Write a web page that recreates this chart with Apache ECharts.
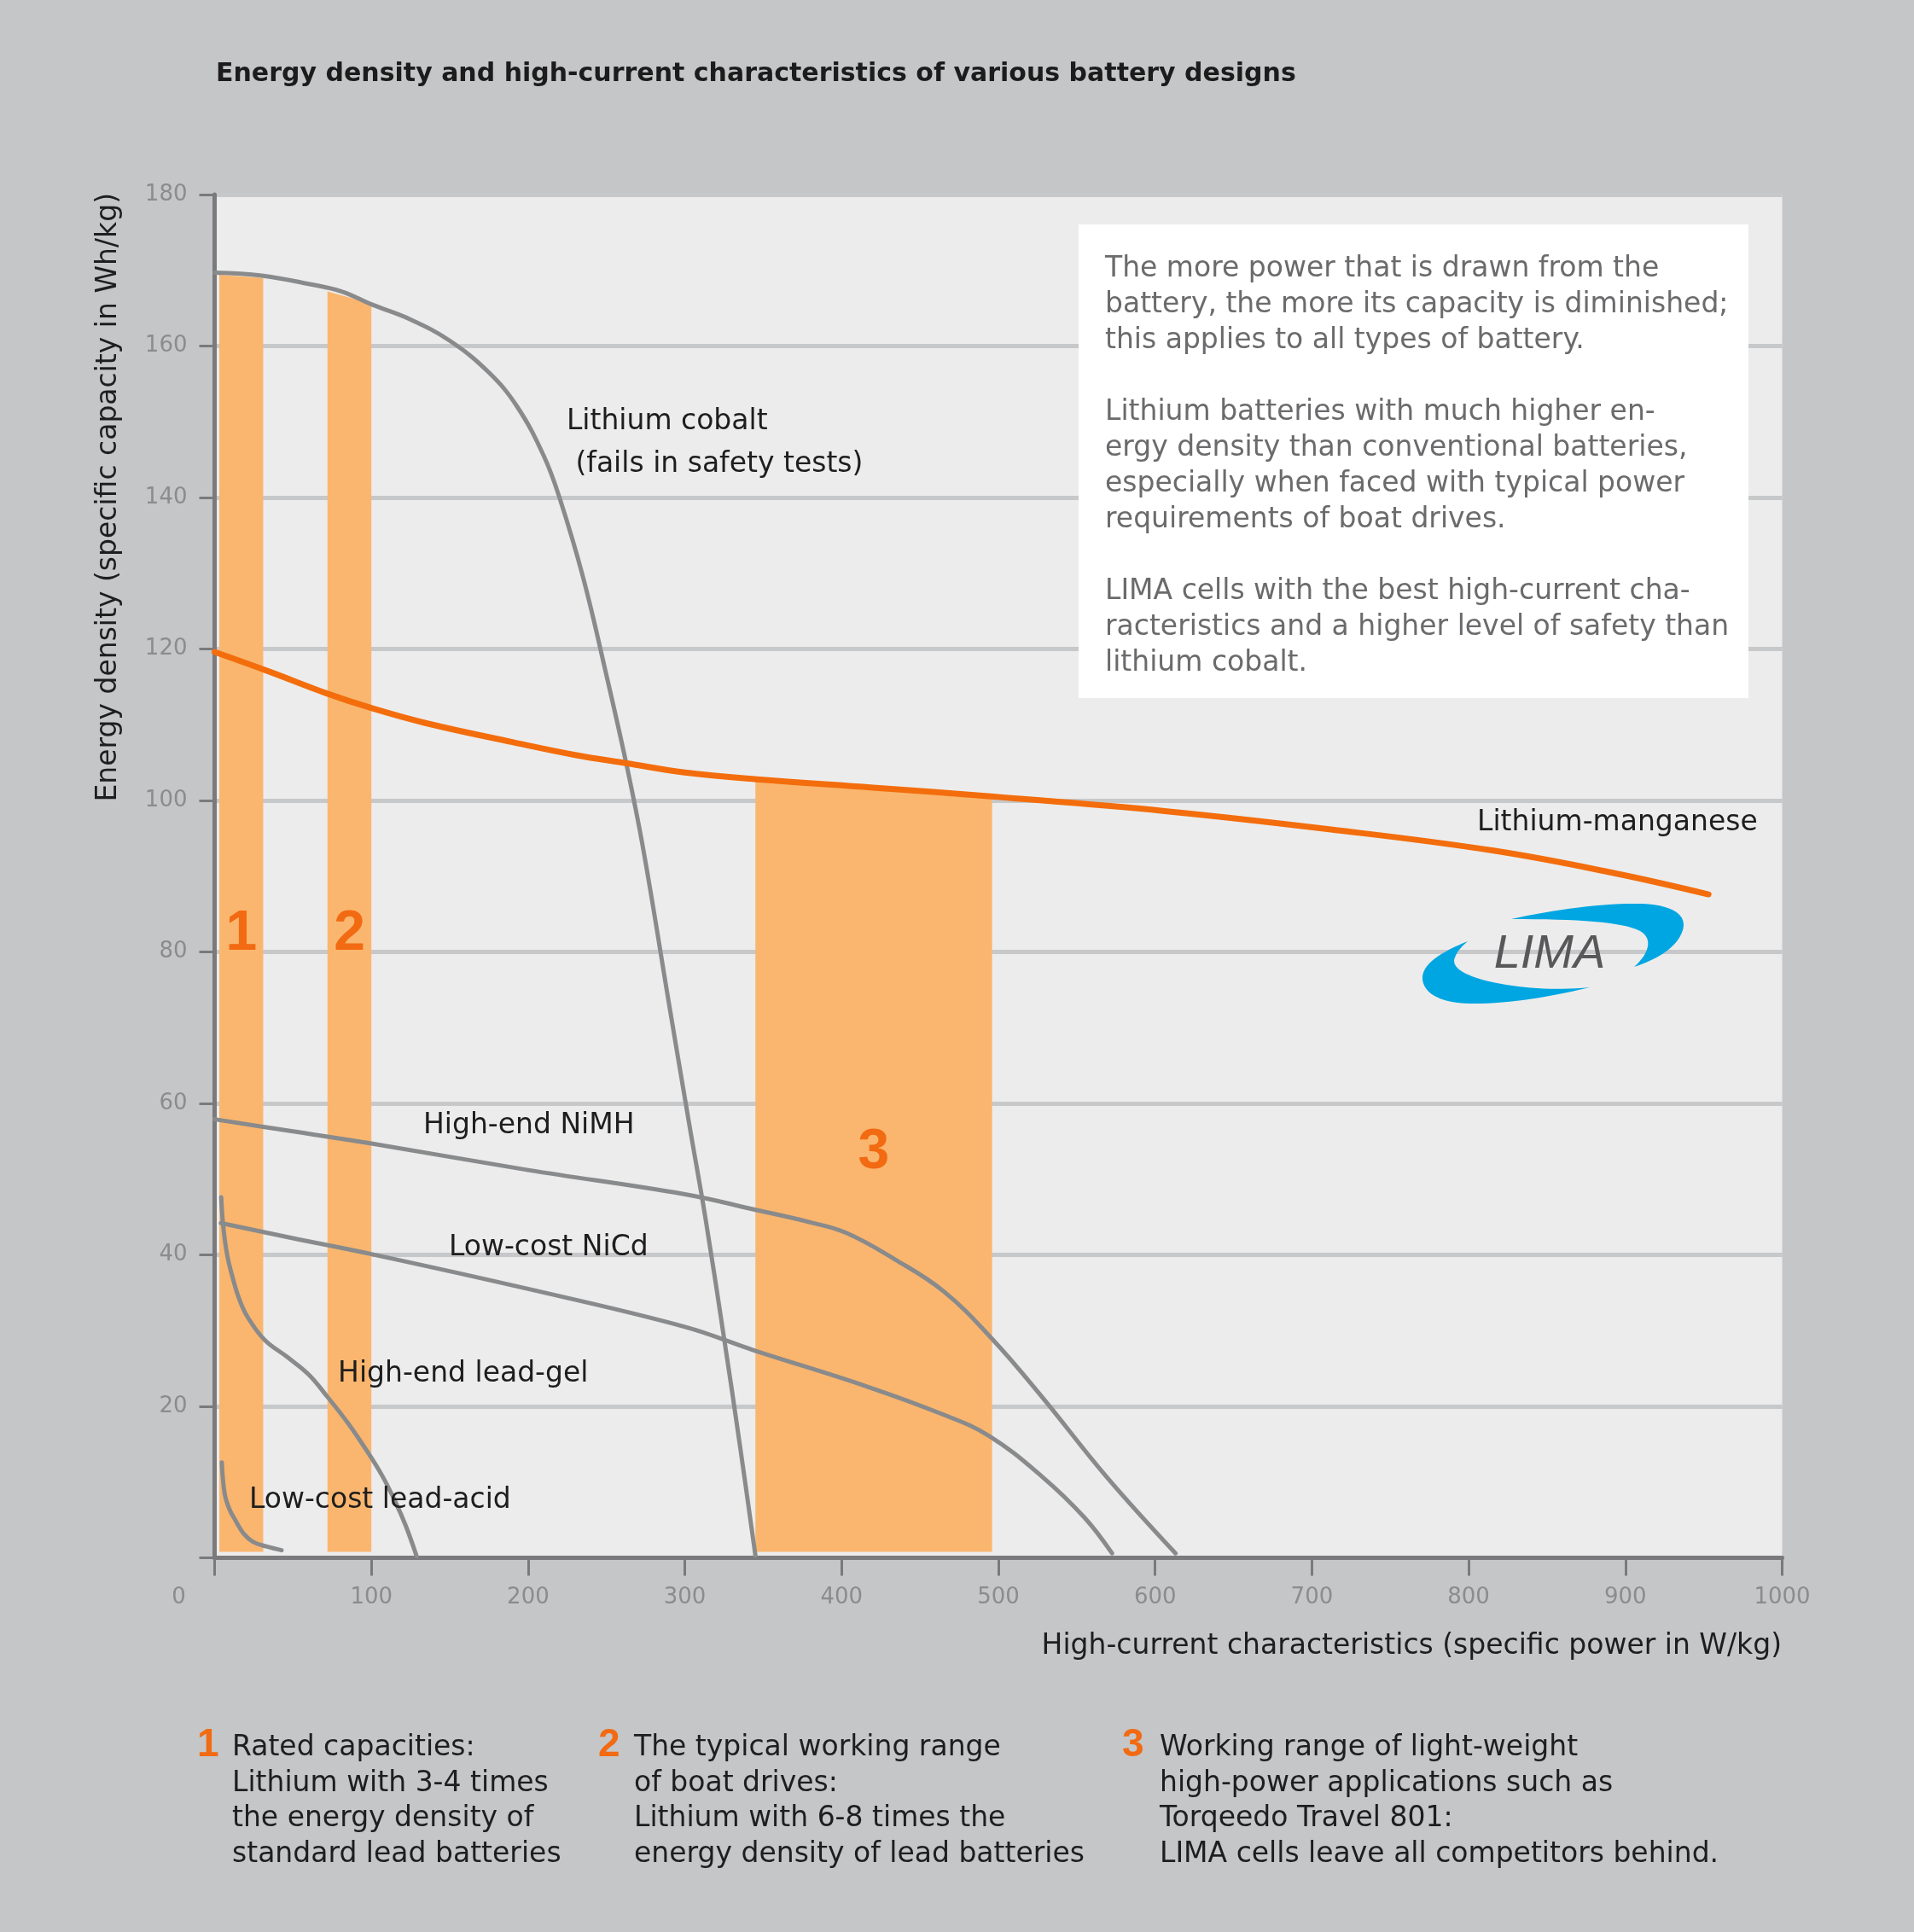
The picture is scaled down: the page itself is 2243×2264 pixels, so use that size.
<!DOCTYPE html>
<html>
<head>
<meta charset="utf-8">
<script src="https://cdn.jsdelivr.net/npm/echarts@6/dist/echarts.min.js"></script>
<style>
html,body{margin:0;padding:0;background:#c5c6c8;}
#chart{width:2243px;height:2264px;}
</style>
</head>
<body>
<div id="chart"></div>
<script>
// ---------- data ----------
const titleText = 'Energy density and high-current characteristics of various battery designs';
const xAxisName = 'High-current characteristics (specific power in W/kg)';
const yAxisName = 'Energy density (specific capacity in Wh/kg)';
const xMin = 0, xMax = 1000, xStep = 100;
const yMin = 0, yMax = 180, yStep = 20;

const lithiumCobalt = [[0,169.7],[30,169.3],[60,168.2],[81,167.2],[100,165.5],[125,163.5],[150,160.7],[175,156.5],[193,152],[210,145.5],[220,140],[235,129.5],[250,116.5],[263,104.5],[273.5,93.5],[290,73],[303,57],[313,45],[325,29],[335,15],[345,0.3]];
const lithiumManganese = [[0,119.6],[35,117],[72,114.1],[100,112.2],[135,110.2],[190,107.7],[230,106],[263,104.9],[300,103.7],[346,102.8],[420,101.7],[497,100.5],[606,98.6],[711,96.2],[815,93.4],[893,90.4],[953,87.6]];
const highEndNiMH = [[0,57.9],[50,56.3],[100,54.7],[200,51.2],[300,48],[344,46],[380,44.3],[403,42.9],[434,39.4],[465,35.2],[496,28.9],[528,21.2],[569,10.7],[613,0.6]];
const lowCostNiCd = [[4,44.2],[50,42.2],[100,40.1],[200,35.5],[300,30.5],[344,27.4],[415,22.7],[465,18.9],[494,16.1],[528,10.7],[555,5.3],[572.5,0.6]];
const highEndLeadGel = [[4.2,47.6],[5.5,43.8],[8,40],[11.9,36.7],[16,34],[21,31.8],[31.8,28.8],[46.4,26.5],[60,24.2],[71.8,21.3],[85,17.8],[97.2,14.1],[107,10.8],[115.3,7.4],[122,4.2],[128.9,0.2]];
const lowCostLeadAcid = [[4.6,12.6],[6.4,8.5],[9.5,6.4],[13.7,4.8],[18.5,3.2],[24.6,2.1],[33,1.5],[42.7,1.0]];

// highlighted working ranges
const bandNames = ['1','2','3'];
const bandX0 = [3, 72, 345];
const bandX1 = [31, 100, 496];
const bandTop0 = [169.4, 167.2, 102.6];
const bandTop1 = [169.0, 165.6, 100.4];
const bandBase = 0.8;
const bandLabelY = [82.3, 82.3, 53.5];

// curve labels
const curveLabelText = ['Lithium cobalt',' (fails in safety tests)','Lithium-manganese','High-end NiMH','Low-cost NiCd','High-end lead-gel','Low-cost lead-acid'];
const curveLabelX = [224.5, 224.5, 805.4, 133.1, 149.4, 78.7, 22];
const curveLabelY = [150.0, 144.3, 97.0, 57.0, 40.9, 24.2, 7.6];

const boxText = [
  'The more power that is drawn from the',
  'battery, the more its capacity is diminished;',
  'this applies to all types of battery.',
  '',
  'Lithium batteries with much higher en-',
  'ergy density than conventional batteries,',
  'especially when faced with typical power',
  'requirements of boat drives.',
  '',
  'LIMA cells with the best high-current cha-',
  'racteristics and a higher level of safety than',
  'lithium cobalt.'
];

const noteNumbers = ['1','2','3'];
const noteTexts = [
  ['Rated capacities:','Lithium with 3-4 times','the energy density of','standard lead batteries'],
  ['The typical working range','of boat drives:','Lithium with 6-8 times the','energy density of lead batteries'],
  ['Working range of light-weight','high-power applications such as','Torqeedo Travel 801:','LIMA cells leave all competitors behind.']
];

// ---------- styles ----------
const FONT = '"DejaVu Sans", sans-serif';
const GRAY_LINE = '#898a8c';
const ORANGE = '#f36d0c';
const BAND = '#fab66e';
const AXIS = '#7a7a7c';

const chart = echarts.init(document.getElementById('chart'), null, {renderer:'canvas'});

function lineSeries(name, data, color, width){
  return {
    name, type:'line', data, smooth:0.4, showSymbol:false, symbol:'none',
    lineStyle:{color, width, cap:'round', join:'round'}, z:5, silent:true, clip:false
  };
}

// sample a closed shape made of cubic bezier segments into polygon points (logo decoration)
function bezierShape(start, segs){
  const pts=[start];
  let p0=start;
  segs.forEach(s=>{
    const [c1,c2,p3]=s;
    for(let k=1;k<=16;k++){
      const t=k/16, u=1-t;
      pts.push([
        u*u*u*p0[0]+3*u*u*t*c1[0]+3*u*t*t*c2[0]+t*t*t*p3[0],
        u*u*u*p0[1]+3*u*u*t*c1[1]+3*u*t*t*c2[1]+t*t*t*p3[1]
      ]);
    }
    p0=p3;
  });
  return pts;
}
const swooshTop = bezierShape([1771,1077],[
  [[1820,1066],[1880,1058],[1925,1059]],
  [[1965,1061],[1980,1075],[1970,1095]],
  [[1962,1112],[1940,1125],[1915,1133]],
  [[1932,1118],[1938,1100],[1922,1091]],
  [[1900,1080],[1850,1077],[1771,1077]]
]);
const swooshBottom = bezierShape([1720,1103],[
  [[1690,1115],[1665,1130],[1667,1148]],
  [[1670,1170],[1700,1177],[1735,1176]],
  [[1780,1175],[1830,1165],[1863,1157]],
  [[1820,1161],[1780,1158],[1745,1150]],
  [[1715,1143],[1700,1133],[1705,1122]],
  [[1708,1114],[1714,1108],[1720,1103]]
]);

const noteX = [[231,272],[701,743],[1315,1359]];
const graphics = [
  {type:'text', x:253, y:87, style:{text:titleText, font:'bold 30px "DejaVu Sans", sans-serif', fill:'#1c1c1c', verticalAlign:'middle'}},
  {type:'text', x:127, y:226, rotation:Math.PI/2, style:{text:yAxisName, font:'33px '+FONT, fill:'#1e1e1e', align:'right', verticalAlign:'middle'}},
  {type:'text', x:2088, y:1929, style:{text:xAxisName, font:'33px '+FONT, fill:'#1e1e1e', align:'right', verticalAlign:'middle'}},
  {type:'rect', shape:{x:1264, y:263, width:785, height:555}, style:{fill:'#ffffff'}, z:50},
  {type:'text', x:1295, y:294, z:51, style:{text:boxText.join('\n'), font:'33px '+FONT, fill:'#6b6b6d', lineHeight:42, verticalAlign:'top'}},
  {type:'polygon', z:40, shape:{points:swooshTop}, style:{fill:'#00a6e2'}},
  {type:'polygon', z:40, shape:{points:swooshBottom}, style:{fill:'#00a6e2'}},
  {type:'text', x:1816, y:1118, z:41, style:{text:'LIMA', font:'italic 56px "Liberation Sans", sans-serif', fill:'#58585a', align:'center', verticalAlign:'middle'}}
];
noteNumbers.forEach((n,i)=>{
  graphics.push({type:'text', x:noteX[i][0], y:2045, style:{text:n, font:'bold 46px "Liberation Sans", sans-serif', fill:'#f26a12', verticalAlign:'middle'}});
  graphics.push({type:'text', x:noteX[i][1], y:2028, style:{text:noteTexts[i].join('\n'), font:'33px '+FONT, fill:'#1e1e1e', lineHeight:41.5, verticalAlign:'top'}});
});

const option = {
  backgroundColor:'#c5c6c8',
  animation:false,
  grid:{left:251.5, right:154.5, top:228, bottom:438.5, show:true, backgroundColor:'#ececec', borderWidth:0},
  xAxis:{
    type:'value', min:xMin, max:xMax, interval:xStep,
    axisLine:{show:true, onZero:false, lineStyle:{color:AXIS, width:5}},
    axisTick:{show:true, length:21, lineStyle:{color:AXIS, width:3}},
    axisLabel:{color:'#8c8c8e', fontSize:26, fontFamily:FONT, margin:34,
      formatter:v => v === 0 ? '{z|0}' : String(v),
      rich:{z:{color:'#8c8c8e', fontSize:26, fontFamily:FONT, padding:[0,84,0,0]}}},
    splitLine:{show:false}
  },
  yAxis:{
    type:'value', min:yMin, max:yMax, interval:yStep,
    axisLine:{show:true, onZero:false, lineStyle:{color:AXIS, width:5}},
    axisTick:{show:true, length:18, lineStyle:{color:AXIS, width:3}},
    axisLabel:{color:'#8c8c8e', fontSize:26, fontFamily:FONT, margin:32,
      formatter:v => v === 0 ? '' : String(v)},
    splitLine:{show:true, lineStyle:{color:'#c7c8ca', width:5}}
  },
  graphic:graphics,
  series:[
    {
      name:'working ranges', type:'custom', z:2, silent:true,
      data: bandX0.map((v,i)=>[v, bandX1[i], bandTop0[i], bandTop1[i], bandLabelY[i]]),
      encode:{x:[0,1], y:[2,3]},
      renderItem:(params, api)=>{
        const x0=api.value(0), x1=api.value(1), t0=api.value(2), t1=api.value(3), ly=api.value(4);
        const pts=[api.coord([x0,bandBase]), api.coord([x1,bandBase]), api.coord([x1,t1]), api.coord([x0,t0])];
        const c=api.coord([(x0+x1)/2, ly]);
        return {type:'group', children:[
          {type:'polygon', shape:{points:pts}, style:{fill:BAND}},
          {type:'text', x:c[0], y:c[1], z2:10, style:{text:bandNames[params.dataIndex], font:'bold 66px "Liberation Sans", sans-serif', fill:'#f26a12', align:'center', verticalAlign:'middle'}}
        ]};
      }
    },
    lineSeries('Lithium cobalt', lithiumCobalt, GRAY_LINE, 5),
    lineSeries('High-end NiMH', highEndNiMH, GRAY_LINE, 5),
    lineSeries('Low-cost NiCd', lowCostNiCd, GRAY_LINE, 5),
    lineSeries('High-end lead-gel', highEndLeadGel, GRAY_LINE, 5),
    lineSeries('Low-cost lead-acid', lowCostLeadAcid, GRAY_LINE, 5),
    lineSeries('Lithium-manganese', lithiumManganese, ORANGE, 7),
    {
      name:'labels', type:'custom', z:10, silent:true,
      data: curveLabelText.map((t,i)=>[curveLabelX[i], curveLabelY[i]]),
      encode:{x:0, y:1},
      renderItem:(params, api)=>{
        const c=api.coord([api.value(0), api.value(1)]);
        return {type:'text', x:c[0], y:c[1], style:{text:curveLabelText[params.dataIndex], font:'33px '+FONT, fill:'#1e1e1e', align:'left', verticalAlign:'middle'}};
      }
    }
  ]
};
chart.setOption(option);
</script>
</body>
</html>
